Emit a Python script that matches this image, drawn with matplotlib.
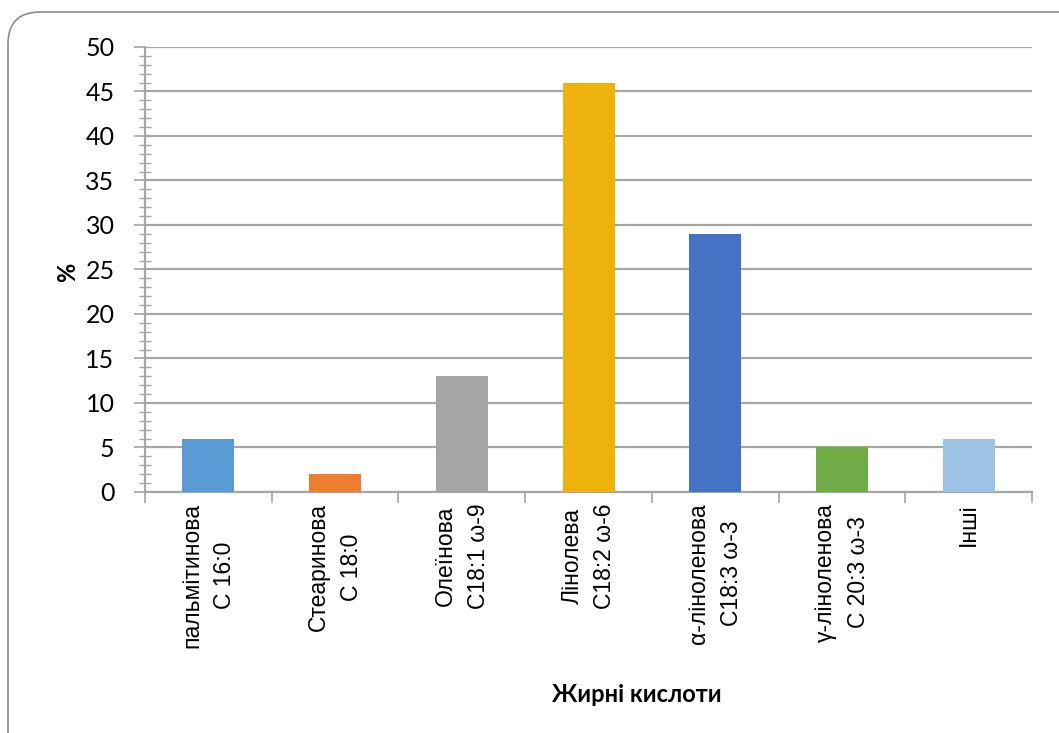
import matplotlib
matplotlib.use("Agg")
import matplotlib.pyplot as plt
from matplotlib.patches import FancyBboxPatch
from matplotlib.ticker import MultipleLocator, FixedLocator
import numpy as np

plt.rcParams["font.family"] = ["Lato", "Open Sans", "DejaVu Sans"]

# fatty acid composition, %
categories = [
    "пальмітинова\nС 16:0",
    "Стеаринова\nС 18:0",
    "Олеїнова\nС18:1 ω-9",
    "Лінолева\nС18:2 ω-6",
    "α-ліноленова\nС18:3 ω-3",
    "γ-ліноленова\nС 20:3 ω-3",
    "Інші",
]
values = [6, 2, 13, 46, 29, 5, 6]
colors = ["#5B9BD5", "#ED7D31", "#A5A5A5", "#EDB20C", "#4472C4", "#70AD47", "#9DC3E6"]

fig = plt.figure(figsize=(10.59, 7.33), dpi=100)
ax = fig.add_axes([0.137, 0.3288, 0.9745 - 0.137, 0.9359 - 0.3288])

x = np.arange(len(categories))
ax.bar(x, values, width=0.41, color=colors, zorder=3)

ax.set_xlim(-0.5, len(categories) - 0.5)
ax.set_ylim(0, 50)

# y axis: majors every 5, minors every 1
ax.yaxis.set_major_locator(MultipleLocator(5))
ax.yaxis.set_minor_locator(MultipleLocator(1))
ax.grid(axis="y", which="major", color="#A6A6A6", linewidth=1.6, zorder=0)
ax.tick_params(axis="y", which="major", direction="out", length=8, width=1.2,
               color="#A6A6A6", labelsize=18, pad=14)
ax.tick_params(axis="y", which="minor", direction="inout", length=8, width=1.0,
               color="#A6A6A6")

# x axis: ticks between categories
ax.xaxis.set_major_locator(FixedLocator(np.arange(-0.5, len(categories), 1.0)))
ax.xaxis.set_minor_locator(FixedLocator(x))
ax.tick_params(axis="x", which="major", direction="out", length=8, width=1.2,
               color="#A6A6A6", labelbottom=False)
ax.tick_params(axis="x", which="minor", length=0, pad=8)
ax.set_xticklabels(categories, minor=True, rotation=90, ha="center", va="top",
                   multialignment="center", linespacing=1.55, fontsize=16.5,
                   fontfamily=["Liberation Sans", "DejaVu Sans"])

for side in ["top", "right"]:
    ax.spines[side].set_visible(False)
for side in ["left", "bottom"]:
    ax.spines[side].set_color("#A6A6A6")
    ax.spines[side].set_linewidth(1.6)

fig.text(68 / 1059, 1 - 272 / 733, "%", rotation=90, ha="center", va="center",
         fontsize=17, fontweight="bold")
fig.text(637 / 1059, 1 - 695 / 733, "Жирні кислоти", ha="center", va="center",
         fontsize=17, fontweight="bold")

# rounded chart frame (partly outside the picture)
frame = FancyBboxPatch((8, -40), 1100, 721 + 40,
                       boxstyle="round,pad=0,rounding_size=32",
                       transform=None, facecolor="none",
                       edgecolor="#8C8C8C", linewidth=1.2)
fig.patches.append(frame)

fig.savefig("out.png", dpi=100)
